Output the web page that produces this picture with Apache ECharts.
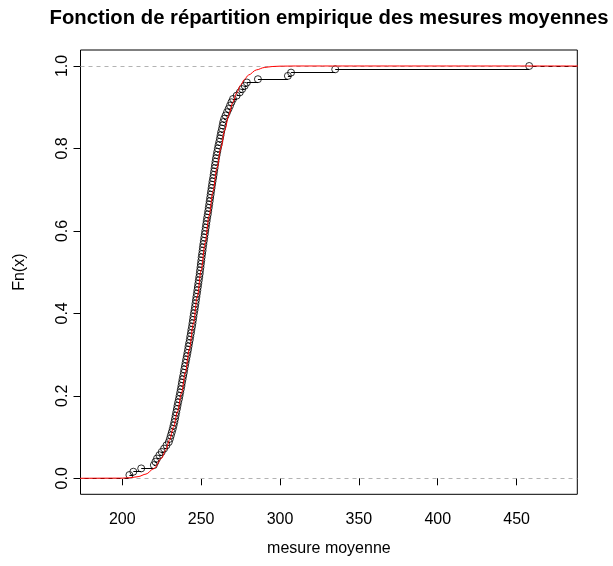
<!DOCTYPE html>
<html>
<head>
<meta charset="utf-8">
<script src="https://cdn.jsdelivr.net/npm/echarts@6/dist/echarts.min.js"></script>
<style>
html,body{margin:0;padding:0;background:#fff;}
#chart{width:613px;height:566px;}
</style>
</head>
<body>
<div id="chart"></div>
<script>
// sorted mean measurements (read from the ECDF)
const mesures = [
204.5,207,212,220,221,222,223.5,225,226.5,228,
229.5,230.2,230.8,231.4,232,232.5,233,233.4,233.8,234.2,
234.6,235,235.4,235.9,236.3,236.7,237.1,237.5,237.8,238.2,
238.6,239,239.3,239.7,240.1,240.5,240.9,241.3,241.7,242,
242.4,242.8,243.1,243.5,243.8,244.2,244.5,244.8,245.1,245.4,
245.8,246.1,246.4,246.7,247,247.3,247.6,247.9,248.2,248.5,
248.8,249.1,249.3,249.6,249.8,250.1,250.3,250.6,250.9,251.1,
251.4,251.7,252,252.3,252.6,252.9,253.2,253.5,253.8,254.2,
254.5,254.8,255.1,255.4,255.7,256,256.3,256.6,256.9,257.2,
257.6,257.9,258.2,258.5,258.8,259.1,259.4,259.8,260.2,260.6,
261,261.5,261.9,262.3,262.7,263.2,263.6,264,264.6,265.5,
266.4,267.4,268.3,269.2,270.2,272.5,274.5,276,277.6,279,
286,305,307,335,458
];
// theoretical (red) curve
const normX = [170,200,205,210,215,220,225,227.5,230,232.5,235,237.5,240,242.5,245,247.5,250,252.5,255,257.5,260,262.5,265,267.5,270,272.5,275,277.5,280,285,290,295,300,310,490];
const normY = [0,0.00045,0.0014,0.0040,0.0102,0.0235,0.0492,0.0685,0.0934,0.1244,0.1619,0.206,0.257,0.313,0.374,0.439,0.505,0.571,0.636,0.696,0.752,0.801,0.845,0.881,0.911,0.935,0.9535,0.9676,0.978,0.9905,0.9963,0.9987,0.9996,1,1];
const xTicks = [200,250,300,350,400,450];
const yTicks = [0,0.2,0.4,0.6,0.8,1.0];

const X_MIN = 173.5, X_MAX = 488.5, Y_MIN = -0.0388, Y_MAX = 1.0388;

const n = mesures.length;
const pts = mesures.map((v, i) => [v, (i + 1) / n]);
const segs = [{coords: [[X_MIN - 10, 0], [mesures[0], 0]]}];
for (let i = 0; i < n; i++) {
  const x2 = i < n - 1 ? mesures[i + 1] : X_MAX + 10;
  segs.push({coords: [[mesures[i], (i + 1) / n], [x2, (i + 1) / n]]});
}
const normData = normX.map((x, i) => [x, normY[i]]);

const font = 'Liberation Sans, Arial, Helvetica, sans-serif';
const chart = echarts.init(document.getElementById('chart'));
chart.setOption({
  animation: false,
  backgroundColor: '#fff',
  title: {
    text: 'Fonction de répartition empirique des mesures moyennes',
    left: 324, top: 3, textAlign: 'center',
    textStyle: {fontFamily: font, fontSize: 20.3, fontWeight: 'bold', color: '#000'}
  },
  grid: {left: 80.5, right: 35.7, top: 50, bottom: 71.7, show: true, borderColor: '#000', borderWidth: 1, backgroundColor: 'transparent'},
  xAxis: {
    type: 'value', min: X_MIN, max: X_MAX,
    name: 'mesure moyenne', nameLocation: 'middle', nameGap: 46,
    nameTextStyle: {fontFamily: font, fontSize: 16, color: '#000'},
    axisLine: {show: false},
    splitLine: {show: false},
    axisTick: {show: true, length: 7, lineStyle: {color: '#000'}, customValues: xTicks},
    axisLabel: {customValues: xTicks, fontFamily: font, fontSize: 16, color: '#000', margin: 17}
  },
  yAxis: {
    type: 'value', min: Y_MIN, max: Y_MAX,
    name: 'Fn(x)', nameLocation: 'middle', nameGap: 53, nameRotate: 90,
    nameTextStyle: {fontFamily: font, fontSize: 16, color: '#000'},
    axisLine: {show: false},
    splitLine: {show: false},
    axisTick: {show: true, length: 7, lineStyle: {color: '#000'}, customValues: yTicks},
    axisLabel: {customValues: yTicks, rotate: 90, fontFamily: font, fontSize: 16, color: '#000', margin: 10,
      formatter: v => v.toFixed(1)}
  },
  series: [
    {
      type: 'line', silent: true, symbol: 'none', data: [],
      markLine: {silent: true, symbol: 'none', label: {show: false},
        lineStyle: {color: '#b3b3b3', type: [4, 4], width: 1},
        data: [{yAxis: 0}, {yAxis: 1}]}
    },
    {
      type: 'lines', coordinateSystem: 'cartesian2d', silent: true, clip: true,
      lineStyle: {color: '#000', width: 1, opacity: 1},
      data: segs, z: 3
    },
    {
      type: 'scatter', silent: true, symbol: 'circle', symbolSize: 7,
      itemStyle: {color: 'rgba(0,0,0,0)', borderColor: '#000', borderWidth: 1},
      data: pts, z: 4
    },
    {
      type: 'line', silent: true, symbol: 'none', smooth: 0.3, smoothMonotone: 'x',
      lineStyle: {color: '#ff0000', width: 1},
      data: normData, z: 5, clip: true
    }
  ]
});
</script>
</body>
</html>
